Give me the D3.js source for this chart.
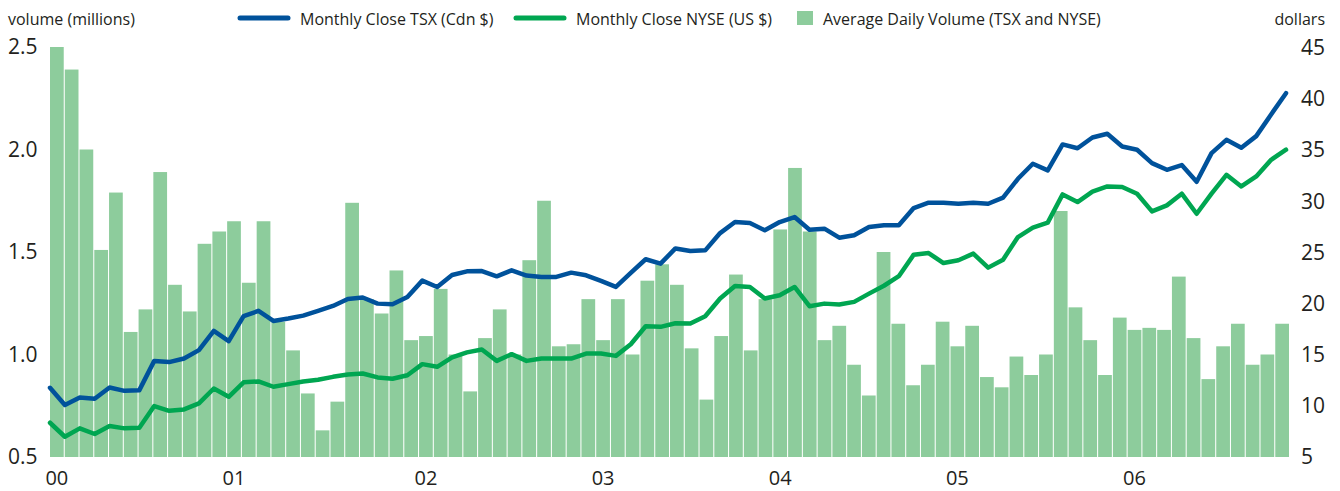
<!DOCTYPE html>
<html lang="en">
<head>
    <meta charset="UTF-8">
    <title>Monthly close and volume</title>
    <script src="https://cdn.jsdelivr.net/npm/d3@7"></script>
    <style>
        body {
          margin: 0;
          background: #fff;
        }
        text {
          font-family: "Open Sans", sans-serif;
          fill: #231f20;
        }
    </style>
</head>
<body>
    <script>
        let w = 1340;
        let h = 491;

        // monthly, Jan 2000 .. Dec 2006
        let volume = [2.50, 2.39, 2.00, 1.51, 1.79, 1.11, 1.22, 1.89, 1.34, 1.21, 1.54, 1.60, 1.65, 1.35,
                      1.65, 1.16, 1.02, 0.81, 0.63, 0.77, 1.74, 1.27, 1.20, 1.41, 1.07, 1.09, 1.32, 1.00,
                      0.82, 1.08, 1.22, 1.00, 1.46, 1.75, 1.04, 1.05, 1.27, 1.07, 1.27, 1.00, 1.36, 1.44,
                      1.34, 1.03, 0.78, 1.09, 1.39, 1.02, 1.27, 1.61, 1.91, 1.60, 1.07, 1.14, 0.95, 0.80,
                      1.50, 1.15, 0.85, 0.95, 1.16, 1.04, 1.14, 0.89, 0.84, 0.99, 0.90, 1.00, 1.70, 1.23,
                      1.07, 0.90, 1.18, 1.12, 1.13, 1.12, 1.38, 1.08, 0.88, 1.04, 1.15, 0.95, 1.00, 1.15];

        let tsx = [11.77, 10.08, 10.83, 10.69, 11.80, 11.47, 11.54, 14.40, 14.28, 14.63, 15.45, 17.33, 16.33, 18.77,
                   19.29, 18.31, 18.54, 18.83, 19.29, 19.77, 20.46, 20.60, 20.00, 19.94, 20.65, 22.25, 21.63, 22.80,
                   23.16, 23.19, 22.67, 23.26, 22.74, 22.61, 22.61, 23.03, 22.77, 22.22, 21.63, 23.00, 24.34, 23.91,
                   25.40, 25.15, 25.21, 26.90, 27.98, 27.88, 27.17, 27.98, 28.47, 27.23, 27.33, 26.45, 26.68, 27.49,
                   27.66, 27.66, 29.35, 29.87, 29.87, 29.77, 29.87, 29.77, 30.36, 32.21, 33.68, 33.03, 35.57, 35.20,
                   36.25, 36.61, 35.37, 35.05, 33.74, 33.09, 33.55, 31.92, 34.72, 36.02, 35.24, 36.38, 38.50, 40.58];

        let nyse = [8.35, 6.98, 7.80, 7.25, 8.03, 7.80, 7.86, 9.98, 9.52, 9.65, 10.24, 11.70, 10.89, 12.30,
                    12.39, 11.87, 12.13, 12.39, 12.55, 12.84, 13.07, 13.17, 12.78, 12.65, 13.00, 14.08, 13.82, 14.74,
                    15.23, 15.51, 14.40, 15.06, 14.40, 14.63, 14.63, 14.63, 15.12, 15.12, 14.89, 16.03, 17.79, 17.73,
                    18.08, 18.05, 18.77, 20.50, 21.73, 21.63, 20.50, 20.82, 21.63, 19.75, 20.00, 19.91, 20.17, 20.98,
                    21.75, 22.68, 24.79, 24.95, 23.97, 24.24, 24.89, 23.52, 24.30, 26.51, 27.43, 27.92, 30.68, 29.93,
                    30.96, 31.46, 31.40, 30.75, 29.02, 29.61, 30.75, 28.79, 30.75, 32.60, 31.46, 32.44, 34.07, 35.05];

        let yearLabels = ['00', '01', '02', '03', '04', '05', '06'];
        let yearMonths = [0, 12, 25, 37, 49, 61, 73];
        let volTicks = [0.5, 1.0, 1.5, 2.0, 2.5];
        let usdTicks = [5, 10, 15, 20, 25, 30, 35, 40, 45];

        let blue = '#00529b';
        let green = '#00a651';
        let barColor = '#8dcc9c';

        let months = d3.range(volume.length);

        let xBar = d3.scaleBand().domain(months).range([50, 1289]).paddingInner(0.07);
        let xLine = d3.scalePoint().domain(months).range([50, 1286]);
        let yVol = d3.scaleLinear().domain([0.5, 2.5]).range([457, 47]);
        let yUsd = d3.scaleLinear().domain([5, 45]).range([457, 48]);

        let svg = d3.select('body')
                    .append('svg')
                    .attr('width', w)
                    .attr('height', h);

        svg.append('g')
           .selectAll('rect')
           .data(volume)
           .enter()
           .append('rect')
           .attr('x', (d, i) => xBar(i))
           .attr('width', xBar.bandwidth())
           .attr('y', d => yVol(d))
           .attr('height', d => yVol(0.5) - yVol(d))
           .style('fill', barColor);

        function drawLine(values, color) {
            let line = d3.line()
                         .x((d, i) => xLine(i))
                         .y(d => yUsd(d));
            svg.append('path')
               .datum(values)
               .attr('d', line)
               .style('fill', 'none')
               .style('stroke', color)
               .style('stroke-width', 4.5)
               .style('stroke-linejoin', 'round')
               .style('stroke-linecap', 'round');
        }
        drawLine(nyse, green);
        drawLine(tsx, blue);

        // axes
        let left = svg.append('g')
                      .attr('transform', 'translate(8,0)')
                      .call(d3.axisRight(yVol).tickValues(volTicks).tickSize(0).tickPadding(0).tickFormat(d3.format('.1f')));
        let right = svg.append('g')
                       .attr('transform', 'translate(1301,0)')
                       .call(d3.axisRight(yUsd).tickValues(usdTicks).tickSize(0).tickPadding(0));
        let bottom = svg.append('g')
                        .attr('transform', 'translate(0,457)')
                        .call(d3.axisBottom(xBar).tickValues(yearMonths).tickSize(0).tickPadding(14)
                                .tickFormat((d, i) => yearLabels[i]));

        [left, right, bottom].forEach(g => {
            g.select('.domain').remove();
            g.attr('font-family', null).attr('font-size', null);
            g.selectAll('text').style('font-size', '21px').style('fill', '#231f20');
        });
        bottom.selectAll('text').style('font-size', '20px');

        // titles + legend
        svg.append('text').attr('x', 8).attr('y', 25).style('font-size', '16px').text('volume (millions)');
        svg.append('text').attr('x', 1325).attr('y', 25).attr('text-anchor', 'end').style('font-size', '16px').text('dollars');

        let legend = [
            {label: 'Monthly Close TSX (Cdn $)', color: blue, x: 240, type: 'line'},
            {label: 'Monthly Close NYSE (US $)', color: green, x: 516, type: 'line'},
            {label: 'Average Daily Volume (TSX and NYSE)', color: barColor, x: 797, type: 'box'}
        ];

        let items = svg.selectAll('.legend')
                       .data(legend)
                       .enter()
                       .append('g')
                       .attr('class', 'legend')
                       .attr('transform', d => 'translate(' + d.x + ',0)');

        items.filter(d => d.type == 'line')
             .append('line')
             .attr('x1', 0).attr('x2', 48).attr('y1', 18).attr('y2', 18)
             .style('stroke', d => d.color)
             .style('stroke-width', 5)
             .style('stroke-linecap', 'round');

        items.filter(d => d.type == 'box')
             .append('rect')
             .attr('x', 0).attr('y', 11).attr('width', 16).attr('height', 14)
             .style('fill', d => d.color);

        items.append('text')
             .attr('x', d => d.type == 'line' ? 60 : 26)
             .attr('y', 25)
             .style('font-size', '16px')
             .text(d => d.label);
    </script>
</body>
</html>
